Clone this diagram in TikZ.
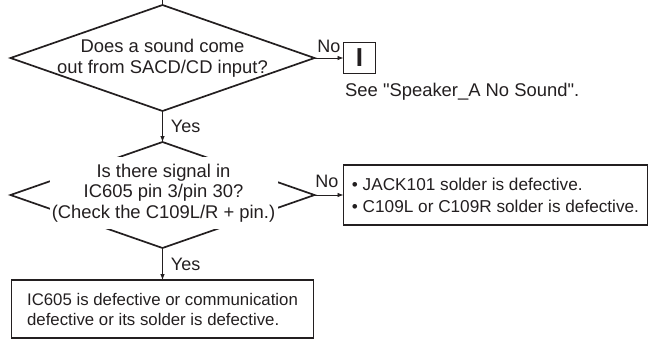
\documentclass[tikz,border=0pt]{standalone}
\usepackage{fontspec}
\setmainfont{Liberation Sans}[Ligatures=TeXOff]
\usetikzlibrary{positioning,arrows.meta,shapes.geometric,calc}
\definecolor{cInk}{HTML}{231F20}

\begin{document}
\begin{tikzpicture}[x=1pt,y=-1pt,font=\fontsize{18}{20.5}\selectfont,cInk,
    ask/.style={diamond,draw=cInk,line width=1.7pt,minimum width=304pt,minimum height=106pt,inner sep=0pt,outer sep=0pt},
    qtext/.style={align=center,inner sep=0pt,font=\fontsize{18.4}{20.5}\selectfont},
    fault/.style={draw=cInk,line width=1.8pt,align=left,outer sep=0pt},
    go/.style={draw=cInk,line width=0.8pt,-{Latex[length=6pt,width=4.5pt]}},
    lbl/.style={inner sep=0pt}]
  \useasboundingbox (0,0) rectangle (655,338);
  % first check
  \coordinate (entry) at (162.5,0);
  \node[ask] (q1) at (162.5,58) {};
  \node[qtext] (q1t) at (q1.center) {Does a sound come\\out from SACD/CD input?};
  \node[fault,minimum width=32pt,minimum height=31pt,inner sep=0pt,
        font=\fontsize{26}{26}\selectfont\bfseries,right=29pt of q1] (jmp) {I};
  \node[lbl,below right=9.5pt and 1.5pt of jmp.south west,font=\fontsize{18.4}{20}\selectfont] (see) {See "Speaker\_A No Sound".};
  % second check
  \node[ask,below=31pt of q1] (q2) {};
  \node[qtext,fill=white,minimum width=228pt,minimum height=72pt] (q2t) at ($(q2.center)+(1,-2)$)
    {Is there signal in\\IC605 pin 3/pin 30?\\(Check the C109L/R + pin.)};
  \node[fault,font=\fontsize{17.2}{22}\selectfont,minimum width=304pt,minimum height=60pt,inner xsep=7pt,
        right=29pt of q2] (fix)
    {\textbullet\ JACK101 solder is defective.\\\textbullet\ C109L or C109R solder is defective.};
  \node[fault,font=\fontsize{16.8}{20}\selectfont,minimum width=302pt,inner xsep=9pt,inner ysep=13pt,
        below=32pt of q2] (done)
    {IC605 is defective or communication\\defective or its solder is defective.};
  % connectors
  \draw[line width=0.8pt] (entry) -- (q1.north);
  \draw[go] (q1.east) -- node[lbl,pos=0,anchor=base west,xshift=2.5pt,yshift=6pt] {No} (jmp.west);
  \draw[go] (q1.south) -- node[lbl,right=8pt] {Yes} (q2.north);
  \draw[go] (q2.east) -- node[lbl,pos=0,anchor=base west,xshift=0.5pt,yshift=7.5pt] {No} (fix.west);
  \draw[go] (q2.south) -- node[lbl,right=8pt] {Yes} (done.north);
\end{tikzpicture}
\end{document}
